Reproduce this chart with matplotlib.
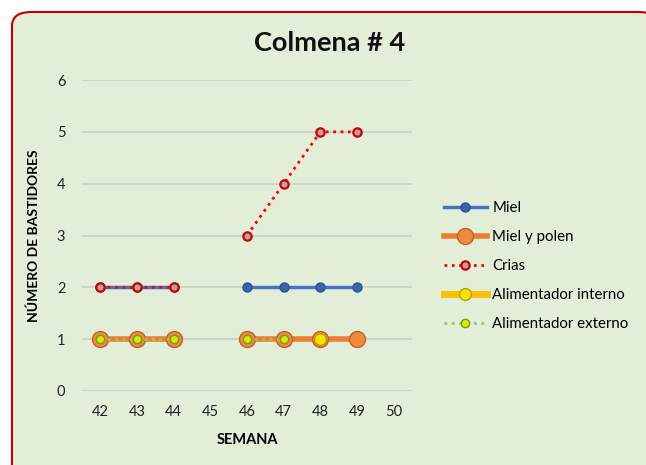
import numpy as np
import matplotlib.pyplot as plt
from matplotlib.patches import FancyBboxPatch

semanas = [42, 43, 44, 45, 46, 47, 48, 49, 50]
miel = [2, 2, 2, np.nan, 2, 2, 2, 2, np.nan]
miel_polen = [1, 1, 1, np.nan, 1, 1, 1, 1, np.nan]
crias = [2, 2, 2, np.nan, 3, 4, 5, 5, np.nan]
alim_interno = [np.nan, np.nan, np.nan, np.nan, np.nan, np.nan, 1, np.nan, np.nan]
alim_externo = [1, 1, 1, np.nan, 1, 1, np.nan, np.nan, np.nan]

plt.rcParams['font.family'] = ['Lato', 'DejaVu Sans']

fig = plt.figure(figsize=(6.46, 4.65), dpi=100)
fig.patch.set_facecolor('white')

# rounded chart frame
frame = FancyBboxPatch((12 / 646, -0.05), 1.0, 1 - 12 / 465 + 0.05,
                       boxstyle='round,pad=0,rounding_size=0.03',
                       transform=fig.transFigure, facecolor='#E3EED9',
                       edgecolor='#C00000', linewidth=1.5, zorder=-10)
fig.patches.append(frame)

ax = fig.add_axes([82 / 646, 1 - 391 / 465, 330 / 646, 311 / 465])
ax.set_facecolor('none')

ax.plot(semanas, miel_polen, color='#ED7D31', linewidth=4, marker='o', markersize=11.5,
        markerfacecolor='#F08A3C', markeredgecolor='#C0622A', markeredgewidth=1,
        label='Miel y polen', zorder=3)
ax.plot(semanas, alim_interno, color='#FFC000', linewidth=5, marker='o', markersize=8.5,
        markerfacecolor='#F2E600', markeredgecolor='#B8A000', markeredgewidth=1,
        label='Alimentador interno', zorder=4)
ax.plot(semanas, alim_externo, color='#92D050', linewidth=2, linestyle=':', marker='o',
        markersize=6, markerfacecolor='#D8E800', markeredgecolor='#6F9A2A', markeredgewidth=1,
        label='Alimentador externo', zorder=5)
ax.plot(semanas, miel, color='#4472C4', linewidth=2.5, marker='o', markersize=6.5,
        markerfacecolor='#3A64B0', markeredgecolor='#2F528F', markeredgewidth=1,
        label='Miel', zorder=6)
ax.plot(semanas, crias, color='#FF0000', linewidth=2, linestyle=':', marker='o',
        markersize=6, markerfacecolor='#B0A8A8', markeredgecolor='#D00000', markeredgewidth=1.6,
        label='Crias', zorder=7)

ax.set_xlim(41.5, 50.5)
ax.set_ylim(0, 6)
ax.set_xticks(semanas)
ax.set_yticks(range(0, 7))
ax.tick_params(length=0, labelsize=10.5, colors='#222222')
ax.tick_params(axis='x', pad=10)
ax.tick_params(axis='y', pad=12)
ax.grid(axis='y', color='#C9D2C2', linewidth=1.2)
ax.set_axisbelow(True)
for s in ax.spines.values():
    s.set_visible(False)

ax.set_xlabel('SEMANA', fontsize=10.5, fontweight='bold', labelpad=10)
ax.set_ylabel('NÚMERO DE BASTIDORES', fontsize=10, fontweight='bold', labelpad=12)

fig.text(330 / 646, 1 - 43 / 465, 'Colmena # 4', ha='center', va='center',
         fontsize=19.5, fontweight='bold', color='#111111')

handles, labels = ax.get_legend_handles_labels()
order = ['Miel', 'Miel y polen', 'Crias', 'Alimentador interno', 'Alimentador externo']
hl = dict(zip(labels, handles))
leg = fig.legend([hl[k] for k in order], order, loc='center left',
                 bbox_to_anchor=(430 / 646, 1 - 266 / 465), frameon=False,
                 fontsize=10.8, handlelength=2.9, labelspacing=1.0, handletextpad=0.35)

fig.savefig('out.png', dpi=100)
